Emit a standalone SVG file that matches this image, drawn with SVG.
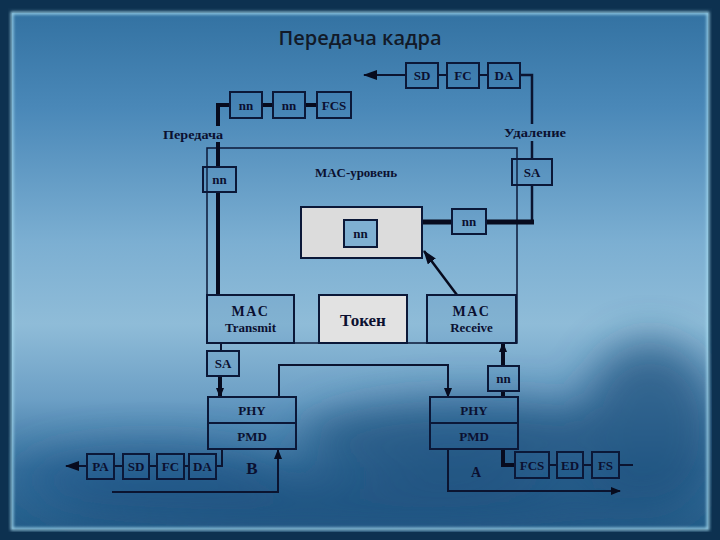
<svg xmlns="http://www.w3.org/2000/svg" width="720" height="540" viewBox="0 0 720 540">
<defs>
<linearGradient id="bg" gradientUnits="userSpaceOnUse" x1="0" y1="0" x2="0" y2="540">
<stop offset="0" stop-color="#306f9f"/>
<stop offset="0.2" stop-color="#4a88b8"/>
<stop offset="0.45" stop-color="#7cafd2"/>
<stop offset="0.6" stop-color="#8fbcd8"/>
<stop offset="0.74" stop-color="#6c9fc5"/>
<stop offset="0.87" stop-color="#356f9c"/>
<stop offset="1" stop-color="#215985"/>
</linearGradient>
<filter id="cloud" x="-50%" y="-50%" width="200%" height="200%"><feGaussianBlur stdDeviation="22"/></filter>
<filter id="glow" x="-5%" y="-5%" width="110%" height="110%"><feGaussianBlur stdDeviation="1.6"/></filter>
<marker id="arr" markerUnits="userSpaceOnUse" markerWidth="14" markerHeight="10" refX="13" refY="5" orient="auto"><path d="M0,0 L14,5 L0,10 Z" fill="#070b1e"/></marker>
<marker id="arrS" markerUnits="userSpaceOnUse" markerWidth="10" markerHeight="8" refX="9" refY="4" orient="auto"><path d="M0,0 L10,4 L0,8 Z" fill="#070b1e"/></marker>
<style>
.box{fill:#2a6ea3;fill-opacity:0.12;stroke:#0b1838;stroke-width:2}
.gray{fill:#dcdcdc;stroke:#0b1838;stroke-width:2}
.t{font-family:"Liberation Serif",serif;font-weight:bold;fill:#0b1030;text-anchor:middle}
.thin{stroke:#0b1430;stroke-width:2;fill:none}
.mid{stroke:#0b1430;stroke-width:2.5;fill:none}
.thick{stroke:#070b1e;stroke-width:4;fill:none}
</style>
</defs>

<!-- background -->
<rect x="0" y="0" width="720" height="540" fill="#0f3352"/>
<rect x="12" y="13" width="696" height="516" fill="url(#bg)"/>
<g filter="url(#cloud)" opacity="0.75">
<ellipse cx="470" cy="440" rx="170" ry="40" fill="#1d4f7c"/>
<ellipse cx="650" cy="430" rx="70" ry="90" fill="#1d4f7c"/>
<ellipse cx="150" cy="480" rx="130" ry="30" fill="#24598a"/>
<ellipse cx="360" cy="505" rx="300" ry="25" fill="#1c4e7b"/>
</g>
<rect x="12" y="13" width="696" height="516" fill="none" stroke="#a6dcf0" stroke-width="2.5" filter="url(#glow)"/>
<rect x="0" y="0" width="720" height="540" fill="none" stroke="#0d3150" stroke-width="16"/>

<text x="360" y="45" text-anchor="middle" font-family="'Open Sans','Noto Sans',sans-serif" font-size="20" font-weight="600" fill="#121a28">Передача кадра</text>

<!-- connectors -->
<g id="connectors">
<rect x="207" y="148" width="310" height="195" fill="none" stroke="#0b1838" stroke-width="1.5"/>
<!-- top right chain -->
<line class="thin" x1="406" y1="75" x2="364" y2="75" stroke-width="2.5" marker-end="url(#arr)"/>
<line class="thin" x1="438" y1="75" x2="447" y2="75"/>
<line class="thin" x1="479" y1="75" x2="488" y2="75"/>
<path class="mid" d="M520,75 H532 V124"/>
<line class="mid" x1="532" y1="141" x2="532" y2="159"/>
<path class="mid" d="M532,185 V222"/>
<line stroke="#070b1e" stroke-width="5" x1="534" y1="222" x2="486" y2="222"/>
<line stroke="#070b1e" stroke-width="5" x1="452" y1="222" x2="422" y2="222"/>
<!-- top left chain -->
<path class="thick" d="M218,126 V105 H230"/>
<line class="thick" x1="262" y1="105" x2="273" y2="105"/>
<line class="thick" x1="305" y1="105" x2="317" y2="105"/>
<line class="thick" x1="218" y1="142" x2="218" y2="167"/>
<line class="thick" x1="218" y1="192" x2="218" y2="295"/>
<!-- receive to token buffer -->
<line stroke="#070b1e" stroke-width="2.5" x1="457" y1="295" x2="424" y2="251" marker-end="url(#arr)"/>
<!-- transmit to SA to PHY -->
<line class="thin" x1="221" y1="343" x2="221" y2="351"/>
<line stroke="#070b1e" stroke-width="4" x1="220" y1="376" x2="220" y2="397" marker-end="url(#arrS)"/>
<!-- loop B PHY to A PHY -->
<path class="thin" d="M279,397 V365 H448 V397" marker-end="url(#arrS)"/>
<!-- A PHY to nn to MAC receive -->
<line stroke="#070b1e" stroke-width="4" x1="503" y1="366" x2="503" y2="343" marker-end="url(#arrS)"/>
<line class="thick" x1="503" y1="391" x2="503" y2="397"/>
<!-- bottom left chain -->
<line class="thin" x1="87" y1="466" x2="66" y2="466" stroke-width="3" marker-end="url(#arr)"/>
<line class="thin" x1="114" y1="466" x2="123" y2="466"/>
<line class="thin" x1="149" y1="466" x2="157" y2="466"/>
<line class="thin" x1="184" y1="466" x2="189" y2="466"/>
<path class="thin" d="M216,466 H222 V449"/>
<path class="thin" d="M112,492 H278 V450" marker-end="url(#arrS)"/>
<!-- bottom right -->
<path class="thin" d="M448,449 V491 H620" marker-end="url(#arrS)"/>
<path class="thick" d="M503,449 V465 H515"/>
<line class="thin" x1="549" y1="465" x2="557" y2="465"/>
<line class="thin" x1="583" y1="465" x2="592" y2="465"/>
<line class="thin" x1="619" y1="465" x2="633" y2="465" stroke-width="3"/>
</g>

<g class="t" font-size="13">
<text x="193" y="139" textLength="60" lengthAdjust="spacingAndGlyphs">Передача</text>
<text x="535" y="137" textLength="62" lengthAdjust="spacingAndGlyphs">Удаление</text>
<text x="356" y="177" textLength="82" lengthAdjust="spacingAndGlyphs">MAC-уровень</text>
</g>

<!-- nodes -->
<g class="t" font-size="13">
<g id="top-sd"><rect class="box" x="406" y="63" width="32" height="25"/><text x="422" y="80">SD</text></g>
<g id="top-fc"><rect class="box" x="447" y="63" width="32" height="25"/><text x="463" y="80">FC</text></g>
<g id="top-da"><rect class="box" x="488" y="63" width="32" height="25"/><text x="504" y="80">DA</text></g>

<g id="tx-nn1"><rect class="box" x="230" y="92" width="32" height="26"/><text x="246" y="109.5">nn</text></g>
<g id="tx-nn2"><rect class="box" x="273" y="92" width="32" height="26"/><text x="289" y="109.5">nn</text></g>
<g id="tx-fcs"><rect class="box" x="317" y="92" width="34" height="26"/><text x="334" y="110">FCS</text></g>

<g id="left-nn"><rect class="box" x="203" y="167" width="33" height="25"/><text x="219.5" y="184">nn</text></g>
<g id="right-sa"><rect class="box" x="512" y="159" width="40" height="26"/><text x="532" y="177">SA</text></g>
<g id="right-nn"><rect class="box" x="452" y="209" width="34" height="25"/><text x="469" y="226">nn</text></g>

<g id="buffer"><rect class="gray" x="301" y="207" width="121" height="51"/>
<rect class="box" x="344" y="220" width="33" height="27" style="fill:#7fb0d2;fill-opacity:1"/><text x="360.5" y="238">nn</text></g>

<g id="mac-transmit"><rect class="box" x="207" y="295" width="87" height="48"/><text x="250.5" y="316" font-size="14" letter-spacing="1.5">MAC</text><text x="250.5" y="332">Transmit</text></g>
<g id="token"><rect class="gray" x="319" y="295" width="88" height="48" stroke-width="1.5" style="fill:#e2e2e2"/><text x="363" y="326" font-size="17">Токен</text></g>
<g id="mac-receive"><rect class="box" x="427" y="295" width="89" height="48"/><text x="471.5" y="316" font-size="14" letter-spacing="1.5">MAC</text><text x="471.5" y="332">Receive</text></g>

<g id="left-sa"><rect class="box" x="207" y="351" width="32" height="25"/><text x="223" y="368">SA</text></g>
<g id="rb-nn"><rect class="box" x="488" y="366" width="31" height="25"/><text x="503.5" y="383">nn</text></g>

<g id="phy-b"><rect class="box" x="208" y="397" width="88" height="52"/><line x1="208" y1="423" x2="296" y2="423" stroke="#0b1838" stroke-width="2"/><text x="252" y="415">PHY</text><text x="252" y="441">PMD</text></g>
<g id="phy-a"><rect class="box" x="430" y="397" width="88" height="52"/><line x1="430" y1="423" x2="518" y2="423" stroke="#0b1838" stroke-width="2"/><text x="474" y="415">PHY</text><text x="474" y="441">PMD</text></g>

<g id="bl-pa"><rect class="box" x="87" y="454" width="27" height="25"/><text x="100.5" y="471">PA</text></g>
<g id="bl-sd"><rect class="box" x="123" y="454" width="26" height="25"/><text x="136" y="471">SD</text></g>
<g id="bl-fc"><rect class="box" x="157" y="454" width="27" height="25"/><text x="170.5" y="471">FC</text></g>
<g id="bl-da"><rect class="box" x="189" y="454" width="27" height="25"/><text x="202.5" y="471">DA</text></g>
<text x="252" y="474" font-size="17">B</text>
<text x="476" y="477" font-size="14">A</text>

<g id="br-fcs"><rect class="box" x="515" y="452" width="34" height="26"/><text x="532" y="470">FCS</text></g>
<g id="br-ed"><rect class="box" x="557" y="452" width="26" height="26"/><text x="570" y="470">ED</text></g>
<g id="br-fs"><rect class="box" x="592" y="452" width="27" height="26"/><text x="605.5" y="470">FS</text></g>
</g>
</svg>
